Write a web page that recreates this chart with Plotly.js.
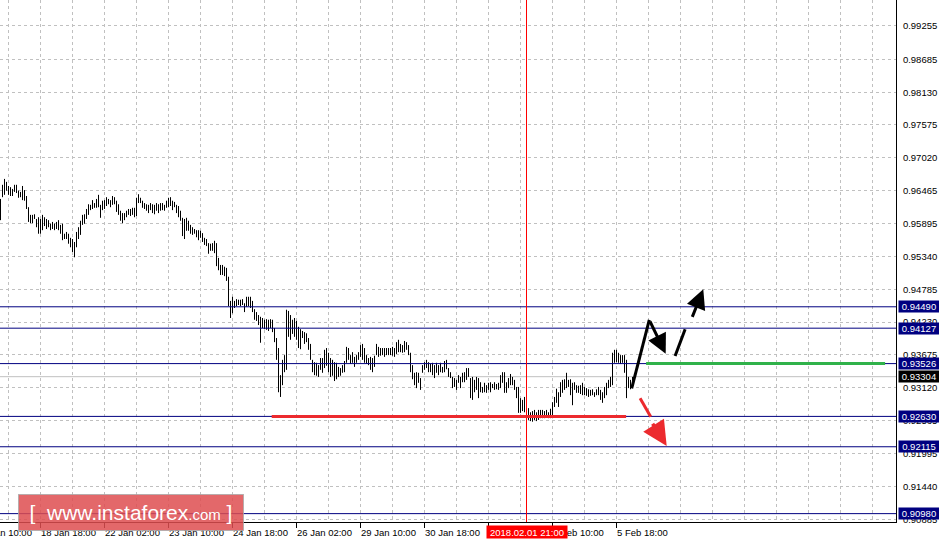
<!DOCTYPE html>
<html>
<head>
<meta charset="utf-8">
<script src="https://cdn.plot.ly/plotly-3.0.1.min.js"></script>
<style>html,body{margin:0;padding:0;background:#fff;}#chart{width:939px;height:544px;}</style>
</head>
<body>
<div id="chart"></div>
<script>
// H1 bars (high / low), oldest first
var barHighs = [
.9632,.9656,.9666,.9661,.9654,.9652,.9649,.9656,.9656,.9646,
.9644,.9654,.9647,.9637,.9618,.9605,.9605,.9606,.9598,.9601,
.9598,.9605,.9601,.9598,.9596,.9590,.9593,.9590,.9593,.9596,
.9588,.9590,.9573,.9576,.9573,.9566,.9564,.9559,.9576,.9584,
.9595,.9605,.9606,.9615,.9623,.9622,.9630,.9625,.9632,.9639,
.9622,.9629,.9630,.9635,.9632,.9630,.9637,.9635,.9629,.9623,
.9612,.9608,.9608,.9612,.9615,.9615,.9617,.9617,.9634,.9640,
.9634,.9629,.9625,.9623,.9622,.9625,.9623,.9622,.9625,.9623,
.9625,.9625,.9622,.9629,.9634,.9635,.9629,.9627,.9622,.9620,
.9612,.9600,.9598,.9600,.9595,.9588,.9584,.9581,.9579,.9579,
.9578,.9574,.9566,.9564,.9557,.9556,.9557,.9561,.9557,.9532,
.9520,.9520,.9517,.9515,.9500,.9459,.9466,.9459,.9462,.9461,
.9461,.9462,.9455,.9466,.9466,.9466,.9459,.9445,.9440,.9435,
.9432,.9430,.9427,.9428,.9427,.9428,.9427,.9413,.9396,.9379,
.9333,.9359,.9367,.9444,.9442,.9435,.9427,.9430,.9425,.9415,
.9411,.9408,.9406,.9404,.9396,.9386,.9359,.9355,.9354,.9350,
.9362,.9362,.9376,.9379,.9371,.9362,.9359,.9355,.9354,.9347,
.9345,.9350,.9357,.9381,.9379,.9367,.9372,.9364,.9367,.9372,
.9384,.9386,.9379,.9367,.9362,.9364,.9362,.9366,.9386,.9381,
.9379,.9379,.9379,.9379,.9379,.9379,.9381,.9379,.9389,.9393,
.9386,.9384,.9391,.9389,.9384,.9371,.9350,.9337,.9338,.9337,
.9328,.9350,.9355,.9359,.9355,.9352,.9354,.9350,.9354,.9350,
.9354,.9347,.9357,.9359,.9345,.9338,.9330,.9328,.9325,.9333,
.9330,.9337,.9338,.9345,.9345,.9328,.9330,.9325,.9330,.9328,
.9321,.9313,.9320,.9316,.9320,.9321,.9318,.9321,.9318,.9320,
.9333,.9338,.9338,.9321,.9328,.9335,.9330,.9325,.9313,.9313,
.9294,.9291,.9296,.9277,.9277,.9270,.9272,.9274,.9270,.9274,
.9274,.9274,.9272,.9274,.9270,.9276,.9287,.9296,.9310,.9304,
.9321,.9325,.9326,.9337,.9325,.9326,.9320,.9321,.9316,.9315,
.9316,.9320,.9313,.9311,.9309,.9308,.9309,.9304,.9309,.9313,
.9308,.9304,.9313,.9320,.9325,.9330,.9371,.9376,.9376,.9371,
.9367,.9367,.9367,.9359,.9330,.9325,.9330
];
var barLows = [
.9596,.9635,.9639,.9646,.9639,.9637,.9637,.9644,.9642,.9634,
.9635,.9630,.9629,.9615,.9593,.9591,.9591,.9598,.9584,.9573,
.9573,.9579,.9586,.9581,.9584,.9579,.9581,.9579,.9581,.9579,
.9573,.9562,.9564,.9564,.9556,.9550,.9542,.9533,.9550,.9564,
.9571,.9588,.9590,.9598,.9605,.9613,.9615,.9617,.9617,.9618,
.9600,.9613,.9615,.9620,.9623,.9618,.9622,.9623,.9610,.9605,
.9595,.9591,.9596,.9601,.9605,.9603,.9605,.9601,.9603,.9625,
.9625,.9617,.9615,.9612,.9608,.9613,.9608,.9606,.9612,.9608,
.9612,.9613,.9612,.9617,.9618,.9620,.9613,.9618,.9608,.9601,
.9595,.9569,.9564,.9578,.9578,.9573,.9571,.9573,.9567,.9562,
.9566,.9559,.9554,.9552,.9539,.9544,.9544,.9540,.9518,.9511,
.9503,.9503,.9501,.9493,.9450,.9430,.9438,.9447,.9450,.9452,
.9450,.9452,.9440,.9449,.9450,.9447,.9440,.9427,.9425,.9418,
.9388,.9413,.9411,.9410,.9408,.9413,.9406,.9389,.9359,.9304,
.9296,.9316,.9338,.9342,.9398,.9393,.9403,.9398,.9393,.9379,
.9377,.9396,.9386,.9389,.9376,.9359,.9338,.9333,.9332,.9330,
.9342,.9337,.9345,.9349,.9338,.9330,.9332,.9323,.9326,.9330,
.9332,.9337,.9338,.9354,.9359,.9352,.9354,.9347,.9354,.9359,
.9364,.9359,.9354,.9352,.9350,.9342,.9338,.9347,.9367,.9364,
.9366,.9367,.9364,.9367,.9367,.9367,.9366,.9364,.9369,.9372,
.9372,.9371,.9372,.9376,.9367,.9338,.9326,.9316,.9311,.9320,
.9308,.9337,.9342,.9345,.9338,.9338,.9333,.9328,.9337,.9333,
.9338,.9337,.9338,.9343,.9330,.9328,.9311,.9313,.9308,.9320,
.9311,.9321,.9321,.9325,.9330,.9294,.9291,.9304,.9308,.9294,
.9304,.9303,.9304,.9303,.9308,.9304,.9311,.9308,.9309,.9308,
.9311,.9320,.9303,.9303,.9311,.9316,.9316,.9308,.9294,.9269,
.9269,.9272,.9270,.9257,.9257,.9255,.9254,.9257,.9255,.9257,
.9260,.9260,.9260,.9262,.9260,.9260,.9260,.9279,.9286,.9279,
.9296,.9303,.9308,.9311,.9313,.9299,.9282,.9308,.9303,.9303,
.9301,.9299,.9299,.9298,.9296,.9298,.9299,.9296,.9299,.9299,
.9291,.9286,.9294,.9299,.9311,.9313,.9316,.9354,.9355,.9354,
.9352,.9354,.9337,.9294,.9311,.9309,.9311
];
var priceTickVals = [0.99255,0.98685,0.98130,0.97575,0.97020,0.96465,0.95895,0.95340,0.94785,0.94230,0.93675,0.93120,0.92565,0.91995,0.91440,0.90885];
var priceTickText = ["0.99255","0.98685","0.98130","0.97575","0.97020","0.96465","0.95895","0.95340","0.94785","0.94230","0.93675","0.93120","0.92565","0.91995","0.91440","0.90885"];
var timeLabels = ["17 Jan 10:00","18 Jan 18:00","22 Jan 02:00","23 Jan 10:00","24 Jan 18:00","26 Jan 02:00","29 Jan 10:00","30 Jan 18:00","1 Feb 02:00","2 Feb 10:00","5 Feb 18:00"];
var timeLabelBar = [-12,20,52,84,116,148,180,212,244,276,308];
var levelPrices = [0.94490,0.94127,0.93526,0.92630,0.92115,0.90980];
var levelText = ["0.94490","0.94127","0.93526","0.92630","0.92115","0.90980"];
var currentPrice = 0.93304;
var currentText = "0.93304";
var markerBar = 263;
var markerText = "2018.02.01 21:00";
var supportLevel = 0.92630;
var resistLevel = 0.93526;

// ---- build traces ----
var bx = [], by = [];
for (var i = 0; i < barHighs.length; i++) {
  bx.push(i, i, null);
  by.push(barHighs[i], barLows[i], null);
}
var trace = {x: bx, y: by, type: 'scatter', mode: 'lines',
  line: {color: '#000000', width: 1}, hoverinfo: 'skip', connectgaps: false};

var W = 896, H = 522;
function px2paperX(i) { return (2 * i + 0.5) / W; }

var gridMinor = [];
for (var g = 4; g <= 440; g += 16) {
  if (timeLabelBar.indexOf(g) < 0) gridMinor.push(g);
}
var majorTicks = timeLabelBar.filter(function (v) { return v >= 0; });

var fontF = 'Liberation Sans, Arial, sans-serif';
var shapes = [];
var annotations = [];

// horizontal level lines
levelPrices.forEach(function (p) {
  shapes.push({type: 'line', xref: 'paper', x0: 0, x1: 1, yref: 'y', y0: p, y1: p,
    line: {color: '#000080', width: 1}});
});
shapes.push({type: 'line', xref: 'paper', x0: 0, x1: 1, yref: 'y', y0: currentPrice, y1: currentPrice,
  line: {color: '#c0c0c0', width: 1}, layer: 'below'});
// vertical marker
shapes.push({type: 'line', xref: 'x', x0: markerBar, x1: markerBar, yref: 'paper', y0: 0, y1: 1,
  line: {color: '#ff0000', width: 1}});
// support (red) & resistance (green) drawings
shapes.push({type: 'line', xref: 'x', x0: 135.6, x1: 312.8, yref: 'y', y0: supportLevel, y1: supportLevel,
  line: {color: '#ec2a2e', width: 3}});
shapes.push({type: 'line', xref: 'x', x0: 322.8, x1: 442.3, yref: 'y', y0: resistLevel, y1: resistLevel,
  line: {color: '#30b24a', width: 3}});
// black scenario path
shapes.push({type: 'line', xref: 'x', yref: 'y', x0: 315.6, y0: 0.93107, x1: 324.4, y1: 0.94266,
  line: {color: '#000', width: 3}});
shapes.push({type: 'line', xref: 'x', yref: 'y', x0: 337.3, y0: 0.93655, x1: 342.3, y1: 0.94108,
  line: {color: '#000', width: 3}});
// red scenario path
shapes.push({type: 'line', xref: 'x', yref: 'y', x0: 319.8, y0: 0.92937, x1: 325.1, y1: 0.92625,
  line: {color: '#ec2a2e', width: 3}});

annotations.push({xref: 'x', yref: 'y', axref: 'x', ayref: 'y', x: 332.6, y: 0.93695, ax: 324.4, ay: 0.94266,
  showarrow: true, arrowhead: 2, arrowsize: 1.3, arrowwidth: 3, arrowcolor: '#000', text: '', standoff: 0, startstandoff: 0});
annotations.push({xref: 'x', yref: 'y', axref: 'x', ayref: 'y', x: 351.4, y: 0.94787, ax: 345.6, ay: 0.94294,
  showarrow: true, arrowhead: 2, arrowsize: 1.3, arrowwidth: 3, arrowcolor: '#000', text: '', standoff: 0, startstandoff: 0});
annotations.push({xref: 'x', yref: 'y', axref: 'x', ayref: 'y', x: 333.1, y: 0.92128, ax: 325.6, ay: 0.92530,
  showarrow: true, arrowhead: 2, arrowsize: 1.4, arrowwidth: 3.5, arrowcolor: '#ec2a2e', text: '', standoff: 0, startstandoff: 0});

// time labels
timeLabels.forEach(function (t, k) {
  annotations.push({xref: 'paper', yref: 'paper', x: px2paperX(timeLabelBar[k]), y: -10.5 / H,
    xanchor: 'left', yanchor: 'middle', xshift: -2, showarrow: false, text: t,
    font: {family: fontF, size: 9.5, color: '#000'}});
});
// marker time label
annotations.push({xref: 'paper', yref: 'paper', x: px2paperX(markerBar), y: -10 / H,
  xanchor: 'center', yanchor: 'middle', showarrow: false, text: markerText,
  bgcolor: '#ff0000', width: 80, height: 12, borderpad: 0,
  font: {family: fontF, size: 9.5, color: '#fff'}});
// level price boxes
levelPrices.forEach(function (p, k) {
  annotations.push({xref: 'paper', yref: 'y', x: 898 / W, y: p, xanchor: 'left', yanchor: 'middle',
    showarrow: false, text: levelText[k], bgcolor: '#000080', width: 40, height: 11, borderpad: 0,
    font: {family: fontF, size: 9.5, color: '#fff'}});
});
annotations.push({xref: 'paper', yref: 'y', x: 898 / W, y: currentPrice, xanchor: 'left', yanchor: 'middle',
  showarrow: false, text: currentText, bgcolor: '#000000', width: 40, height: 11, borderpad: 0,
  font: {family: fontF, size: 9.5, color: '#fff'}});
// logo
annotations.push({xref: 'paper', yref: 'paper', x: 130.5 / W, y: (H - 512) / H, xanchor: 'center', yanchor: 'middle',
  showarrow: false, width: 224, height: 35, borderpad: 0,
  bgcolor: 'rgba(222,78,80,0.85)', bordercolor: 'rgba(170,170,170,0.8)', borderwidth: 1,
  text: '[&nbsp;&nbsp;www.instaforex<span style="font-size:15px">.com</span>&nbsp;]',
  font: {family: fontF, size: 21, color: '#ffffff'}});

var layout = {
  width: 939, height: 544,
  margin: {l: 0, r: 43, t: 0, b: 22, pad: 0},
  paper_bgcolor: '#ffffff', plot_bgcolor: '#ffffff',
  showlegend: false,
  xaxis: {range: [-0.25, 447.75], tickmode: 'array', tickvals: majorTicks, showticklabels: false,
    ticks: 'outside', ticklen: 5, tickcolor: '#000', tickwidth: 1,
    showgrid: true, gridcolor: '#c0c0c0', gridwidth: 1, griddash: '3px,3px',
    minor: {tickmode: 'array', tickvals: gridMinor, showgrid: true, gridcolor: '#c0c0c0', gridwidth: 1, griddash: '3px,3px', ticks: ''},
    showline: true, linecolor: '#000', linewidth: 1, zeroline: false, fixedrange: true},
  yaxis: {range: [0.90838, 0.99696], side: 'right', tickmode: 'array', tickvals: priceTickVals, ticktext: priceTickText,
    ticks: '', ticklabelstandoff: 4,
    showgrid: true, gridcolor: '#c0c0c0', gridwidth: 1, griddash: '3px,3px',
    showline: true, linecolor: '#000', linewidth: 1, zeroline: false, fixedrange: true,
    tickfont: {family: fontF, size: 9.5, color: '#000'}},
  shapes: shapes,
  annotations: annotations
};

Plotly.newPlot('chart', [trace], layout, {displayModeBar: false, staticPlot: true});
</script>
</body>
</html>
